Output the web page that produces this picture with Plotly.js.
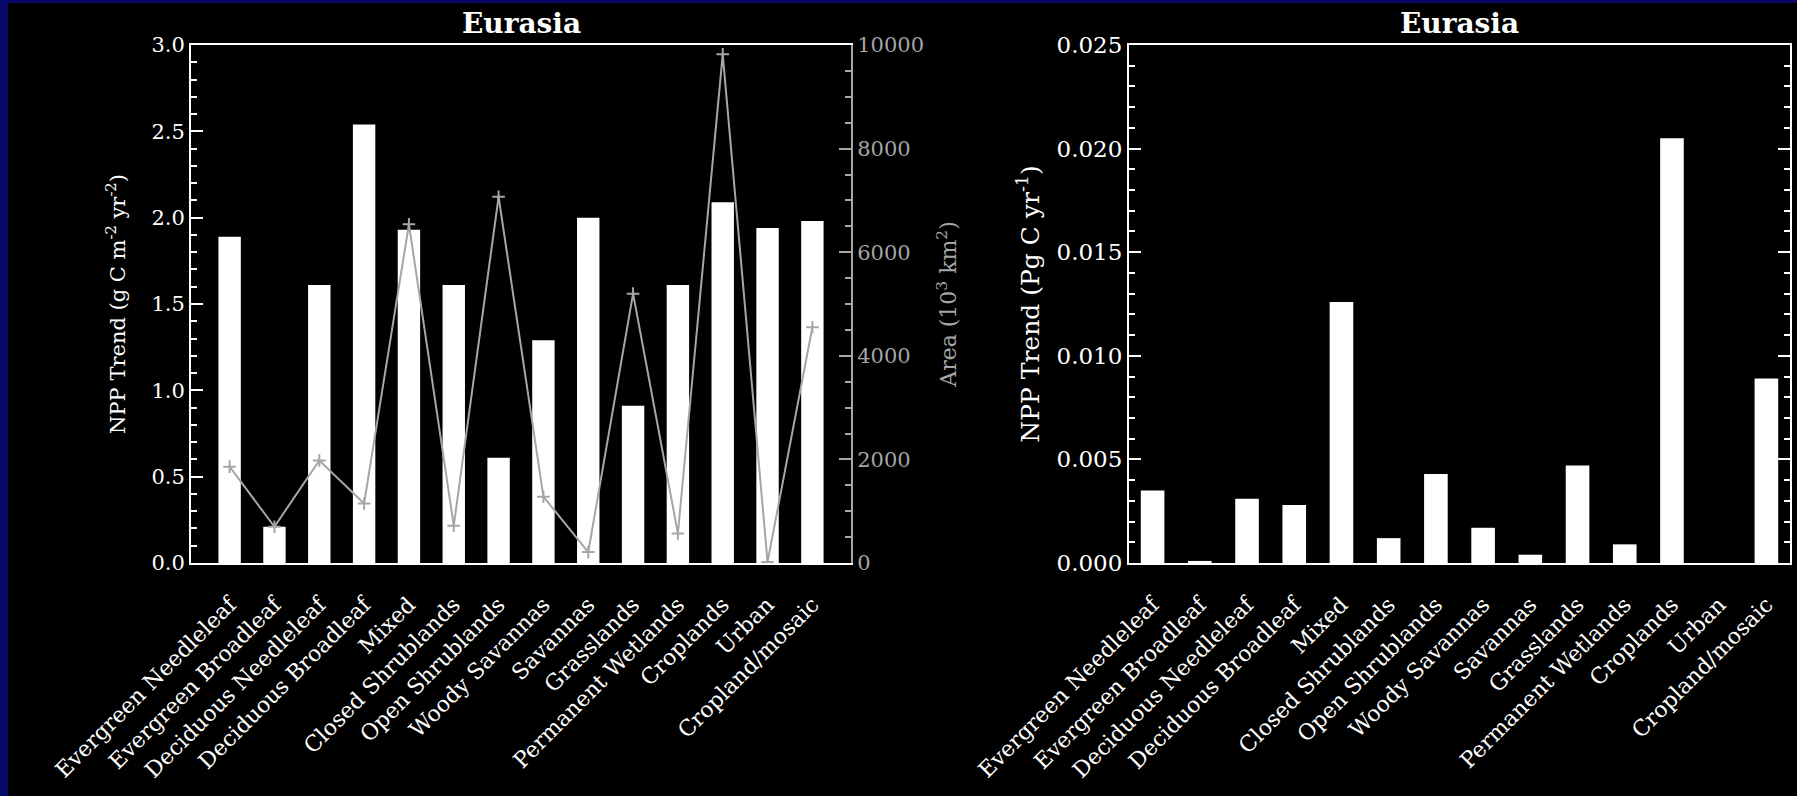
<!DOCTYPE html>
<html>
<head>
<meta charset="utf-8">
<script src="https://cdn.plot.ly/plotly-3.0.1.min.js"></script>
<style>
  html, body { margin: 0; padding: 0; background: #08086a; }
  #chart { width: 1797px; height: 796px; }
</style>
</head>
<body>
<div id="chart"></div>
<script>
// ---- data ----
const categories = [
  "Evergreen Needleleaf", "Evergreen Broadleaf", "Deciduous Needleleaf",
  "Deciduous Broadleaf", "Mixed", "Closed Shrublands", "Open Shrublands",
  "Woody Savannas", "Savannas", "Grasslands", "Permanent Wetlands",
  "Croplands", "Urban", "Cropland/mosaic"
];
// NPP trend per unit area (g C m^-2 yr^-2), left panel bars
const nppTrendPerArea = [1.89, 0.21, 1.61, 2.54, 1.93, 1.61, 0.61, 1.29, 2.00, 0.91, 1.61, 2.09, 1.94, 1.98];
// Area (10^3 km^2), left panel grey line
const areaThousandKm2 = [1860, 700, 1980, 1150, 6540, 720, 7070, 1280, 210, 5200, 570, 9820, 20, 4550];
// Total NPP trend (Pg C yr^-1), right panel bars
const nppTrendTotal = [0.0035, 0.0001, 0.0031, 0.0028, 0.0126, 0.0012, 0.0043, 0.0017, 0.0004, 0.0047, 0.0009, 0.0205, 0.0, 0.0089];

const panelTitle = "Eurasia";
const yTitleLeft = "NPP Trend (g C m<sup>-2</sup> yr<sup>-2</sup>)";
const yTitleArea = "Area (10<sup>3</sup> km<sup>2</sup>)";
const yTitleRight = "NPP Trend (Pg C yr<sup>-1</sup>)";

// ---- styling ----
const W = 1797, H = 796;
const FONT = "DejaVu Serif";
const WHITE = "#ffffff";
const GREY = "#a6a6a6";
const NAVY = "#08086a";

const px = v => v / W;
const py = v => 1 - v / H;

const xDomL = [px(191), px(851)];
const xDomR = [px(1129), px(1790)];
const yDom = [py(563), py(45)];

const traces = [
  {
    type: "bar", x: categories, y: nppTrendPerArea,
    xaxis: "x", yaxis: "y",
    marker: { color: WHITE, line: { width: 0 } },
    hoverinfo: "x+y"
  },
  {
    type: "scatter", mode: "lines+markers", x: categories, y: areaThousandKm2,
    xaxis: "x", yaxis: "y3",
    line: { color: GREY, width: 2 },
    marker: { symbol: "cross-thin", size: 9, color: GREY, line: { color: GREY, width: 2 } },
    hoverinfo: "x+y"
  },
  {
    type: "bar", x: categories, y: nppTrendTotal,
    xaxis: "x2", yaxis: "y2",
    marker: { color: WHITE, line: { width: 0 } },
    hoverinfo: "x+y"
  }
];

const xTickFont = { family: FONT, size: 22, color: WHITE };

function xAxis(domain, anchor) {
  return {
    domain: domain, anchor: anchor, type: "category",
    showline: true, linecolor: WHITE, linewidth: 2, mirror: true,
    ticks: "", showgrid: false, zeroline: false,
    tickangle: -45, tickfont: xTickFont, ticklabelstandoff: 18,
    fixedrange: true
  };
}

const layout = {
  width: W, height: H,
  margin: { l: 0, r: 0, t: 0, b: 0, pad: 0 },
  paper_bgcolor: NAVY,
  plot_bgcolor: "#000000",
  showlegend: false,
  bargap: 0.5,
  xaxis: xAxis(xDomL, "y"),
  xaxis2: xAxis(xDomR, "y2"),
  yaxis: {
    domain: yDom, anchor: "x", range: [0, 3], dtick: 0.5, tick0: 0, tickformat: ".1f",
    showline: true, linecolor: WHITE, linewidth: 2, mirror: false,
    ticks: "inside", ticklen: 12, tickwidth: 2, tickcolor: WHITE,
    minor: { dtick: 0.1, ticks: "inside", ticklen: 6, tickwidth: 2, tickcolor: WHITE, showgrid: false },
    showgrid: false, zeroline: false, tickfont: { family: FONT, size: 21, color: WHITE },
    title: { text: yTitleLeft, font: { family: FONT, size: 21, color: WHITE }, standoff: 20 },
    fixedrange: true
  },
  yaxis3: {
    overlaying: "y", anchor: "x", side: "right", range: [0, 10000], dtick: 2000, tick0: 0, tickformat: "d",
    showline: true, linecolor: GREY, linewidth: 2,
    ticks: "inside", ticklen: 12, tickwidth: 2, tickcolor: GREY,
    minor: { dtick: 500, ticks: "inside", ticklen: 6, tickwidth: 2, tickcolor: GREY, showgrid: false },
    showgrid: false, zeroline: false, tickfont: { family: FONT, size: 21, color: GREY },
    title: { text: yTitleArea, font: { family: FONT, size: 22, color: GREY }, standoff: 18 },
    fixedrange: true
  },
  yaxis2: {
    domain: yDom, anchor: "x2", range: [0, 0.025], dtick: 0.005, tick0: 0, tickformat: ".3f",
    showline: true, linecolor: WHITE, linewidth: 2, mirror: "ticks",
    ticks: "inside", ticklen: 12, tickwidth: 2, tickcolor: WHITE,
    minor: { dtick: 0.001, ticks: "inside", ticklen: 6, tickwidth: 2, tickcolor: WHITE, showgrid: false },
    showgrid: false, zeroline: false, tickfont: { family: FONT, size: 23, color: WHITE },
    title: { text: yTitleRight, font: { family: FONT, size: 25, color: WHITE }, standoff: 10 },
    fixedrange: true
  },
  shapes: [
    {
      type: "rect", xref: "paper", yref: "paper", layer: "below",
      x0: px(8), x1: 1.01, y0: -0.01, y1: py(3),
      fillcolor: "#000000", line: { width: 0 }
    }
  ],
  annotations: [
    {
      text: panelTitle, xref: "paper", yref: "paper",
      x: (xDomL[0] + xDomL[1]) / 2, y: py(23), xanchor: "center", yanchor: "middle",
      showarrow: false, font: { family: FONT, size: 28, color: WHITE, weight: "bold" }
    },
    {
      text: panelTitle, xref: "paper", yref: "paper",
      x: (xDomR[0] + xDomR[1]) / 2, y: py(23), xanchor: "center", yanchor: "middle",
      showarrow: false, font: { family: FONT, size: 28, color: WHITE, weight: "bold" }
    }
  ]
};

Plotly.newPlot("chart", traces, layout, { staticPlot: true, displayModeBar: false });
</script>
</body>
</html>
